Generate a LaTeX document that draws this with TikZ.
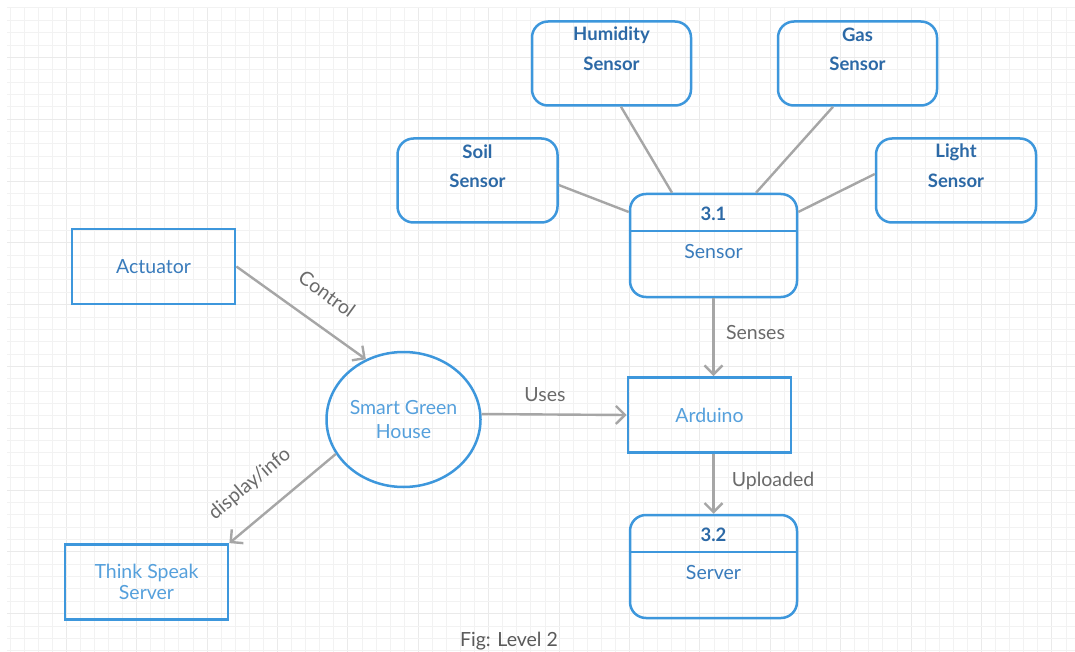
\documentclass[tikz,border=0pt]{standalone}
\usepackage{fontspec}
\setmainfont{Lato}
\usetikzlibrary{arrows.meta,shapes.geometric}
\definecolor{bord}{HTML}{3D97DC}
\definecolor{dtext}{HTML}{2C69A6}
\definecolor{mtext}{HTML}{3A7CBC}
\definecolor{ltext}{HTML}{55A0DC}
\definecolor{conn}{HTML}{A6A6A6}
\definecolor{ltxt}{HTML}{6A6A6A}
\definecolor{gridmin}{HTML}{F2F2F2}
\definecolor{gridmaj}{HTML}{EAEAEA}
\tikzset{
  txt/.style={font=\fontsize{19.5}{22}\selectfont, inner sep=0pt},
  sbox/.style={draw=bord, line width=2.5pt, rounded corners=16pt, minimum width=#1, minimum height=84pt, inner sep=0pt},
  sbox/.default=160pt,
  pbox/.style={draw=bord, line width=2.5pt, rounded corners=16pt, minimum width=167pt, minimum height=103pt, inner sep=0pt},
  rbox/.style={draw=bord, line width=2.8pt, minimum width=163pt, minimum height=75pt, inner sep=0pt, align=center},
  btext/.style={inner sep=0pt, text=dtext, font=\fontsize{18.5}{20}\selectfont\bfseries},
  conline/.style={draw=conn, line width=2.4pt},
  flow/.style={conline, -{Straight Barb[length=9pt,width=18pt,line width=2.4pt]}},
  elab/.style={txt, text=ltxt},
}
\begin{document}
\begin{tikzpicture}[x=1pt,y=-1pt]
\useasboundingbox (0,0) rectangle (1075,652);
\fill[white] (0,0) rectangle (1075,652);
% grid
\foreach \i in {0,...,75}{
  \pgfmathtruncatemacro{\m}{mod(\i,5)}
  \ifnum\m=4 \def\gc{gridmaj}\else\def\gc{gridmin}\fi
  \draw[\gc, line width=1pt] ({10+14.08*\i},8) -- ({10+14.08*\i},652);
}
\foreach \j in {0,...,52}{
  \pgfmathtruncatemacro{\m}{mod(\j,5)}
  \ifnum\m=4 \def\gc{gridmaj}\else\def\gc{gridmin}\fi
  \draw[\gc, line width=1pt] (7,{8+12.36*\j}) -- (1075,{8+12.36*\j});
}
% sensor boxes
\node[sbox=159pt] (hum) at (611.5,63.5) {};
\node[btext] (humt1) at (611.5,35) {Humidity};
\node[btext] (humt2) at (611.5,64) {Sensor};
\node[sbox=159pt] (gas) at (857.5,63.5) {};
\node[btext] (gast1) at (857.5,35) {Gas};
\node[btext] (gast2) at (857.5,64) {Sensor};
\node[sbox] (soil) at (477.5,180.5) {};
\node[btext] (soilt1) at (477.5,152) {Soil};
\node[btext] (soilt2) at (477.5,181) {Sensor};
\node[sbox] (light) at (956,180.5) {};
\node[btext] (lightt1) at (956,152) {Light};
\node[btext] (lightt2) at (956,181) {Sensor};
% process 3.1
\node[pbox] (s31) at (713.5,245.5) {};
\draw[bord, line width=2.5pt] (s31.west |- 0,231) -- (s31.east |- 0,231);
\node[btext] (s31n) at (713.5,213.5) {3.1};
\node[txt, text=mtext] (s31t) at (713.5,252) {Sensor};
% process 3.2
\node[pbox] (s32) at (713.5,566.5) {};
\draw[bord, line width=2.5pt] (s32.west |- 0,552) -- (s32.east |- 0,552);
\node[btext] (s32n) at (713.5,534.5) {3.2};
\node[txt, text=mtext] (s32t) at (713.5,573) {Server};
% rect boxes
\node[rbox, text=mtext, txt] (act) at (153.5,266.5) {Actuator};
\node[rbox, text=ltext, txt] (ard) at (709.5,415) {Arduino};
\node[rbox, text=ltext, txt, font=\fontsize{19.5}{21}\selectfont] (tsp) at (146.5,582) {Think Speak\\Server};
% smart green house
\node[draw=bord, line width=2.5pt, ellipse, minimum width=154pt, minimum height=135pt, inner sep=0pt,
      text=ltext, txt, align=center, font=\fontsize{19.5}{23.5}\selectfont] (sgh) at (403.5,419.5) {Smart Green\\House};
% connectors
\draw[conline] ([yshift=-4.5pt]soil.east) -- ([yshift=33.5pt]s31.west);
\draw[conline] ([xshift=9.5pt]hum.south) -- ([xshift=-41.5pt]s31.north);
\draw[conline] ([xshift=-24.5pt]gas.south) -- ([xshift=42.5pt]s31.north);
\draw[conline] ([yshift=6.5pt]light.west) -- ([yshift=33.5pt]s31.east);
\draw[flow] (s31.south) -- (s31.south |- ard.north);
\draw[flow] (s32.north |- ard.south) -- (s32.north);
\draw[flow] (sgh.4) -- (ard.west);
\draw[flow] (act.east) -- (sgh.122);
\draw[flow] (sgh.207) -- (tsp.north east);
% edge labels
\node[elab] (lsen) at (755.5,333) {Senses};
\node[elab] (lup) at (773,481) {Uploaded};
\node[elab] (luse) at (545,395) {Uses};
\node[elab, rotate=-36] (lctl) at (327,294) {Control};
\node[elab, rotate=40] (ldisp) at (250,484) {display/info};
\node[elab, text=ltxt!85!black] (fig) at (509,641) {Fig: Level 2};
\end{tikzpicture}
\end{document}
